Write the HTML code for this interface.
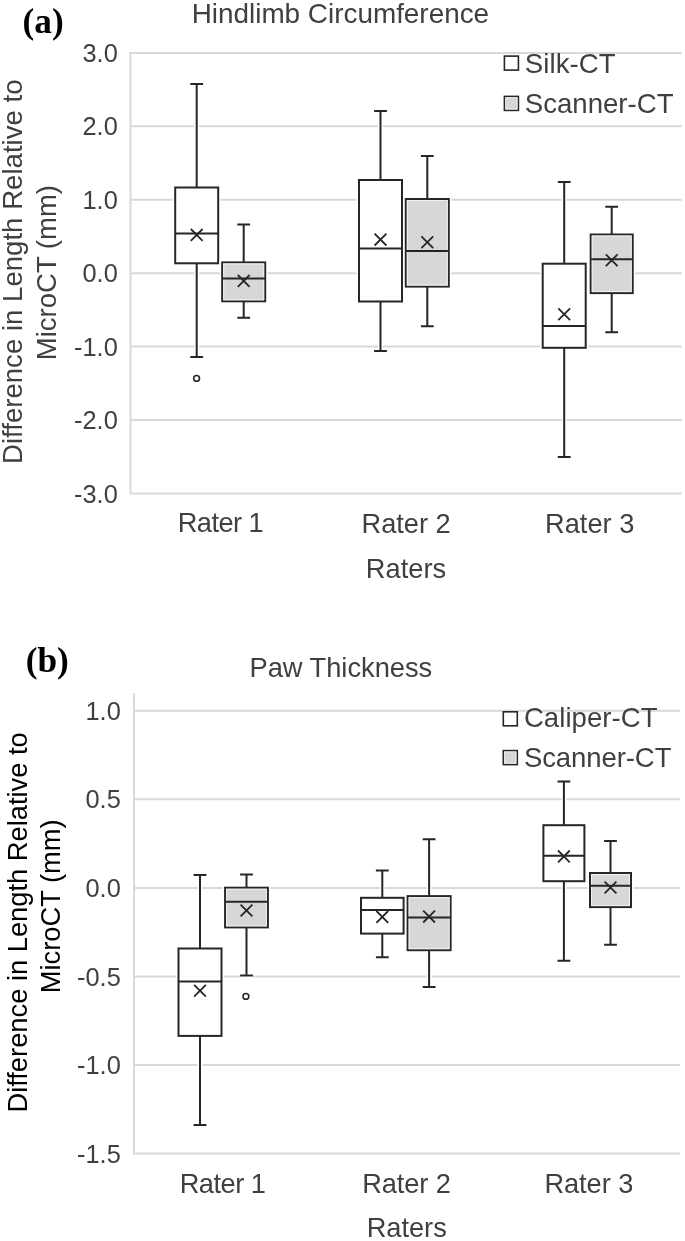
<!DOCTYPE html>
<html><head><meta charset="utf-8"><style>
html,body{margin:0;padding:0;background:#fff;}
svg{display:block;font-family:"Liberation Sans",sans-serif;filter:blur(0.35px);}
</style></head><body>
<svg width="685" height="1241" viewBox="0 0 685 1241">
<rect width="685" height="1241" fill="#fff"/>
<path d="M130.5 52.889999999999986H681.8" stroke="#d9d9d9" stroke-width="2"/>
<path d="M130.5 126.32H681.8" stroke="#d9d9d9" stroke-width="2"/>
<path d="M130.5 199.75H681.8" stroke="#d9d9d9" stroke-width="2"/>
<path d="M130.5 273.18H681.8" stroke="#d9d9d9" stroke-width="2"/>
<path d="M130.5 346.61H681.8" stroke="#d9d9d9" stroke-width="2"/>
<path d="M130.5 420.04H681.8" stroke="#d9d9d9" stroke-width="2"/>
<path d="M130.5 493.47H681.8" stroke="#d9d9d9" stroke-width="2"/>
<path d="M130.5 51.889999999999986V494.47" stroke="#d9d9d9" stroke-width="2"/>
<text x="117.8" y="61.98999999999999" text-anchor="end" font-size="25.4" fill="#404040">3.0</text>
<text x="117.8" y="135.42" text-anchor="end" font-size="25.4" fill="#404040">2.0</text>
<text x="117.8" y="208.85" text-anchor="end" font-size="25.4" fill="#404040">1.0</text>
<text x="117.8" y="282.28000000000003" text-anchor="end" font-size="25.4" fill="#404040">0.0</text>
<text x="117.8" y="355.71000000000004" text-anchor="end" font-size="25.4" fill="#404040">-1.0</text>
<text x="117.8" y="429.14000000000004" text-anchor="end" font-size="25.4" fill="#404040">-2.0</text>
<text x="117.8" y="502.57000000000005" text-anchor="end" font-size="25.4" fill="#404040">-3.0</text>
<path d="M196.7 84.1V187.5M196.7 263.3V357M190.29999999999998 84.1H203.1M190.29999999999998 357H203.1" stroke="#fff" stroke-width="4.8" fill="none"/>
<rect x="175.2" y="187.5" width="43.0" height="75.80000000000001" stroke="#fff" stroke-width="4.8" fill="none"/>
<rect x="175.2" y="187.5" width="43.0" height="75.80000000000001" fill="#fff" stroke="#262626" stroke-width="2"/>
<path d="M196.7 84.1V187.5M196.7 263.3V357M190.29999999999998 84.1H203.1M190.29999999999998 357H203.1M175.2 233.5H218.2" stroke="#262626" stroke-width="2" fill="none"/>
<path d="M190.79999999999998 229.0L202.6 240.8M190.79999999999998 240.8L202.6 229.0" stroke="#262626" stroke-width="1.8" fill="none"/>
<circle cx="196.6" cy="378.4" r="2.9" fill="#fff" stroke="#262626" stroke-width="1.6"/>
<path d="M243.7 224.6V262.4M243.7 301.3V317.8M237.29999999999998 224.6H250.1M237.29999999999998 317.8H250.1" stroke="#fff" stroke-width="4.8" fill="none"/>
<rect x="222.2" y="262.4" width="43.0" height="38.900000000000034" stroke="#fff" stroke-width="4.8" fill="none"/>
<rect x="222.2" y="262.4" width="43.0" height="38.900000000000034" fill="#d7d7d7" stroke="#262626" stroke-width="2"/>
<rect x="223.7" y="263.9" width="40.0" height="35.900000000000034" fill="none" stroke="#f2f2f2" stroke-width="1"/>
<path d="M243.7 224.6V262.4M243.7 301.3V317.8M237.29999999999998 224.6H250.1M237.29999999999998 317.8H250.1M222.2 278.6H265.2" stroke="#262626" stroke-width="2" fill="none"/>
<path d="M237.79999999999998 275.0L249.6 286.79999999999995M237.79999999999998 286.79999999999995L249.6 275.0" stroke="#262626" stroke-width="1.8" fill="none"/>
<path d="M380.5 111V180M380.5 301.5V350.9M374.1 111H386.9M374.1 350.9H386.9" stroke="#fff" stroke-width="4.8" fill="none"/>
<rect x="359.0" y="180" width="43.0" height="121.5" stroke="#fff" stroke-width="4.8" fill="none"/>
<rect x="359.0" y="180" width="43.0" height="121.5" fill="#fff" stroke="#262626" stroke-width="2"/>
<path d="M380.5 111V180M380.5 301.5V350.9M374.1 111H386.9M374.1 350.9H386.9M359.0 248.6H402.0" stroke="#262626" stroke-width="2" fill="none"/>
<path d="M374.6 233.7L386.4 245.5M374.6 245.5L386.4 233.7" stroke="#262626" stroke-width="1.8" fill="none"/>
<path d="M427.3 156V199M427.3 286.6V326.3M420.90000000000003 156H433.7M420.90000000000003 326.3H433.7" stroke="#fff" stroke-width="4.8" fill="none"/>
<rect x="405.8" y="199" width="43.0" height="87.60000000000002" stroke="#fff" stroke-width="4.8" fill="none"/>
<rect x="405.8" y="199" width="43.0" height="87.60000000000002" fill="#d7d7d7" stroke="#262626" stroke-width="2"/>
<rect x="407.3" y="200.5" width="40.0" height="84.60000000000002" fill="none" stroke="#f2f2f2" stroke-width="1"/>
<path d="M427.3 156V199M427.3 286.6V326.3M420.90000000000003 156H433.7M420.90000000000003 326.3H433.7M405.8 251H448.8" stroke="#262626" stroke-width="2" fill="none"/>
<path d="M421.40000000000003 236.29999999999998L433.2 248.1M421.40000000000003 248.1L433.2 236.29999999999998" stroke="#262626" stroke-width="1.8" fill="none"/>
<path d="M564.2 181.9V263.7M564.2 347.8V456.9M557.8000000000001 181.9H570.6M557.8000000000001 456.9H570.6" stroke="#fff" stroke-width="4.8" fill="none"/>
<rect x="542.7" y="263.7" width="43.0" height="84.10000000000002" stroke="#fff" stroke-width="4.8" fill="none"/>
<rect x="542.7" y="263.7" width="43.0" height="84.10000000000002" fill="#fff" stroke="#262626" stroke-width="2"/>
<path d="M564.2 181.9V263.7M564.2 347.8V456.9M557.8000000000001 181.9H570.6M557.8000000000001 456.9H570.6M542.7 325.9H585.7" stroke="#262626" stroke-width="2" fill="none"/>
<path d="M558.3000000000001 308.40000000000003L570.1 320.2M558.3000000000001 320.2L570.1 308.40000000000003" stroke="#262626" stroke-width="1.8" fill="none"/>
<path d="M611.7 206.8V234.5M611.7 293.1V332.2M605.3000000000001 206.8H618.1M605.3000000000001 332.2H618.1" stroke="#fff" stroke-width="4.8" fill="none"/>
<rect x="590.7" y="234.5" width="42.0" height="58.60000000000002" stroke="#fff" stroke-width="4.8" fill="none"/>
<rect x="590.7" y="234.5" width="42.0" height="58.60000000000002" fill="#d7d7d7" stroke="#262626" stroke-width="2"/>
<rect x="592.2" y="236.0" width="39.0" height="55.60000000000002" fill="none" stroke="#f2f2f2" stroke-width="1"/>
<path d="M611.7 206.8V234.5M611.7 293.1V332.2M605.3000000000001 206.8H618.1M605.3000000000001 332.2H618.1M590.7 259.3H632.7" stroke="#262626" stroke-width="2" fill="none"/>
<path d="M605.8000000000001 254.29999999999998L617.6 266.09999999999997M605.8000000000001 266.09999999999997L617.6 254.29999999999998" stroke="#262626" stroke-width="1.8" fill="none"/>
<path d="M134.0 710.77H680" stroke="#d9d9d9" stroke-width="2"/>
<path d="M134.0 799.3399999999999H680" stroke="#d9d9d9" stroke-width="2"/>
<path d="M134.0 887.91H680" stroke="#d9d9d9" stroke-width="2"/>
<path d="M134.0 976.48H680" stroke="#d9d9d9" stroke-width="2"/>
<path d="M134.0 1065.05H680" stroke="#d9d9d9" stroke-width="2"/>
<path d="M134.0 1153.62H680" stroke="#d9d9d9" stroke-width="2"/>
<path d="M134.0 693V1154.62" stroke="#d9d9d9" stroke-width="2"/>
<text x="120.8" y="719.87" text-anchor="end" font-size="25.4" fill="#404040">1.0</text>
<text x="120.8" y="808.4399999999999" text-anchor="end" font-size="25.4" fill="#404040">0.5</text>
<text x="120.8" y="897.01" text-anchor="end" font-size="25.4" fill="#404040">0.0</text>
<text x="120.8" y="985.58" text-anchor="end" font-size="25.4" fill="#404040">-0.5</text>
<text x="120.8" y="1074.1499999999999" text-anchor="end" font-size="25.4" fill="#404040">-1.0</text>
<text x="120.8" y="1162.7199999999998" text-anchor="end" font-size="25.4" fill="#404040">-1.5</text>
<path d="M200 874.9V948.5M200 1035.9V1125M193.6 874.9H206.4M193.6 1125H206.4" stroke="#fff" stroke-width="4.8" fill="none"/>
<rect x="178.5" y="948.5" width="43.0" height="87.40000000000009" stroke="#fff" stroke-width="4.8" fill="none"/>
<rect x="178.5" y="948.5" width="43.0" height="87.40000000000009" fill="#fff" stroke="#262626" stroke-width="2"/>
<path d="M200 874.9V948.5M200 1035.9V1125M193.6 874.9H206.4M193.6 1125H206.4M178.5 981.5H221.5" stroke="#262626" stroke-width="2" fill="none"/>
<path d="M194.1 984.8000000000001L205.9 996.6M194.1 996.6L205.9 984.8000000000001" stroke="#262626" stroke-width="1.8" fill="none"/>
<path d="M246.5 874.4V887.7M246.5 927.4V975.5M240.1 874.4H252.9M240.1 975.5H252.9" stroke="#fff" stroke-width="4.8" fill="none"/>
<rect x="225.1" y="887.7" width="42.79999999999998" height="39.69999999999993" stroke="#fff" stroke-width="4.8" fill="none"/>
<rect x="225.1" y="887.7" width="42.79999999999998" height="39.69999999999993" fill="#d7d7d7" stroke="#262626" stroke-width="2"/>
<rect x="226.6" y="889.2" width="39.79999999999998" height="36.69999999999993" fill="none" stroke="#f2f2f2" stroke-width="1"/>
<path d="M246.5 874.4V887.7M246.5 927.4V975.5M240.1 874.4H252.9M240.1 975.5H252.9M225.1 901.7H267.9" stroke="#262626" stroke-width="2" fill="none"/>
<path d="M240.6 904.6L252.4 916.4M240.6 916.4L252.4 904.6" stroke="#262626" stroke-width="1.8" fill="none"/>
<circle cx="245.9" cy="996.4" r="2.9" fill="#fff" stroke="#262626" stroke-width="1.6"/>
<path d="M382.3 870.4V897.8M382.3 933.6V957.2M375.90000000000003 870.4H388.7M375.90000000000003 957.2H388.7" stroke="#fff" stroke-width="4.8" fill="none"/>
<rect x="361.0" y="897.8" width="42.60000000000002" height="35.80000000000007" stroke="#fff" stroke-width="4.8" fill="none"/>
<rect x="361.0" y="897.8" width="42.60000000000002" height="35.80000000000007" fill="#fff" stroke="#262626" stroke-width="2"/>
<path d="M382.3 870.4V897.8M382.3 933.6V957.2M375.90000000000003 870.4H388.7M375.90000000000003 957.2H388.7M361.0 910.1H403.6" stroke="#262626" stroke-width="2" fill="none"/>
<path d="M376.40000000000003 911.0L388.2 922.8M376.40000000000003 922.8L388.2 911.0" stroke="#262626" stroke-width="1.8" fill="none"/>
<path d="M429.1 839.3V896.1M429.1 950.2V987M422.70000000000005 839.3H435.5M422.70000000000005 987H435.5" stroke="#fff" stroke-width="4.8" fill="none"/>
<rect x="407.6" y="896.1" width="43.0" height="54.10000000000002" stroke="#fff" stroke-width="4.8" fill="none"/>
<rect x="407.6" y="896.1" width="43.0" height="54.10000000000002" fill="#d7d7d7" stroke="#262626" stroke-width="2"/>
<rect x="409.1" y="897.6" width="40.0" height="51.10000000000002" fill="none" stroke="#f2f2f2" stroke-width="1"/>
<path d="M429.1 839.3V896.1M429.1 950.2V987M422.70000000000005 839.3H435.5M422.70000000000005 987H435.5M407.6 917.6H450.6" stroke="#262626" stroke-width="2" fill="none"/>
<path d="M423.20000000000005 910.7L435.0 922.5M423.20000000000005 922.5L435.0 910.7" stroke="#262626" stroke-width="1.8" fill="none"/>
<path d="M563.9 781.4V825.2M563.9 881.2V960.8M557.5 781.4H570.3M557.5 960.8H570.3" stroke="#fff" stroke-width="4.8" fill="none"/>
<rect x="543.4" y="825.2" width="41.0" height="56.0" stroke="#fff" stroke-width="4.8" fill="none"/>
<rect x="543.4" y="825.2" width="41.0" height="56.0" fill="#fff" stroke="#262626" stroke-width="2"/>
<path d="M563.9 781.4V825.2M563.9 881.2V960.8M557.5 781.4H570.3M557.5 960.8H570.3M543.4 855.8H584.4" stroke="#262626" stroke-width="2" fill="none"/>
<path d="M558.0 850.5L569.8 862.3M558.0 862.3L569.8 850.5" stroke="#262626" stroke-width="1.8" fill="none"/>
<path d="M610.5 841V873M610.5 907.1V944.8M604.1 841H616.9M604.1 944.8H616.9" stroke="#fff" stroke-width="4.8" fill="none"/>
<rect x="590.0" y="873" width="41.0" height="34.10000000000002" stroke="#fff" stroke-width="4.8" fill="none"/>
<rect x="590.0" y="873" width="41.0" height="34.10000000000002" fill="#d7d7d7" stroke="#262626" stroke-width="2"/>
<rect x="591.5" y="874.5" width="38.0" height="31.100000000000023" fill="none" stroke="#f2f2f2" stroke-width="1"/>
<path d="M610.5 841V873M610.5 907.1V944.8M604.1 841H616.9M604.1 944.8H616.9M590.0 885.7H631.0" stroke="#262626" stroke-width="2" fill="none"/>
<path d="M604.6 881.6L616.4 893.4M604.6 893.4L616.4 881.6" stroke="#262626" stroke-width="1.8" fill="none"/>
<text x="191.67" y="22.6" font-size="27.9" textLength="297.45" lengthAdjust="spacing" fill="#404040" >Hindlimb Circumference</text>
<text x="249.52" y="677.1" font-size="27.3" textLength="182.68" lengthAdjust="spacing" fill="#404040" >Paw Thickness</text>
<text x="22.6" y="32.8" font-family="Liberation Serif" font-weight="bold" font-size="35.2" fill="#000">(a)</text>
<text x="25.7" y="672.3" font-family="Liberation Serif" font-weight="bold" font-size="35.3" fill="#000">(b)</text>
<rect x="504.4" y="56.1" width="14" height="14" fill="#fff" stroke="#262626" stroke-width="1.6"/>
<rect x="504.4" y="96.4" width="14" height="14" fill="#d7d7d7" stroke="#262626" stroke-width="1.6"/><rect x="505.7" y="97.7" width="11.4" height="11.4" fill="none" stroke="#f2f2f2" stroke-width="0.8"/>
<text x="524.72" y="73.1" font-size="27.6" textLength="90.96" lengthAdjust="spacing" fill="#404040" >Silk-CT</text>
<text x="524.72" y="113.4" font-size="27.6" textLength="148.85" lengthAdjust="spacing" fill="#404040" >Scanner-CT</text>
<rect x="503.3" y="711.8" width="14" height="14" fill="#fff" stroke="#262626" stroke-width="1.6"/>
<rect x="503.3" y="750.6" width="14" height="14" fill="#d7d7d7" stroke="#262626" stroke-width="1.6"/><rect x="504.6" y="751.9" width="11.4" height="11.4" fill="none" stroke="#f2f2f2" stroke-width="0.8"/>
<text x="523.92" y="727.4" font-size="27.5" textLength="133.64" lengthAdjust="spacing" fill="#404040" >Caliper-CT</text>
<text x="523.92" y="767.4" font-size="27.5" textLength="147.54" lengthAdjust="spacing" fill="#404040" >Scanner-CT</text>
<text x="177.72" y="532.3" font-size="27.2" textLength="85.92" lengthAdjust="spacing" fill="#404040" >Rater 1</text>
<text x="361.52" y="532.5" font-size="27.2" textLength="89.12" lengthAdjust="spacing" fill="#404040" >Rater 2</text>
<text x="545.02" y="532.5" font-size="27.2" textLength="89.32" lengthAdjust="spacing" fill="#404040" >Rater 3</text>
<text x="365.82" y="577.7" font-size="27.2" textLength="80.24" lengthAdjust="spacing" fill="#404040" >Raters</text>
<text x="179.72" y="1192.5" font-size="27.2" textLength="86.22" lengthAdjust="spacing" fill="#404040" >Rater 1</text>
<text x="362.22" y="1192.5" font-size="27.2" textLength="88.62" lengthAdjust="spacing" fill="#404040" >Rater 2</text>
<text x="544.42" y="1192.5" font-size="27.2" textLength="88.92" lengthAdjust="spacing" fill="#404040" >Rater 3</text>
<text x="366.72" y="1237.4" font-size="27.2" textLength="80.04" lengthAdjust="spacing" fill="#404040" >Raters</text>
<text transform="translate(22.0 271.75) rotate(-90)" x="0" y="0" text-anchor="middle" font-size="27.6" fill="#404040">Difference in Length Relative to</text>
<text transform="translate(55.5 272.6) rotate(-90)" x="0" y="0" text-anchor="middle" font-size="27.5" fill="#404040">MicroCT (mm)</text>
<text transform="translate(26.7 922.4) rotate(-90)" x="0" y="0" text-anchor="middle" font-size="27.3" fill="#000">Difference in Length Relative to</text>
<text transform="translate(59.7 906.3) rotate(-90)" x="0" y="0" text-anchor="middle" font-size="27.3" fill="#000">MicroCT (mm)</text>
</svg>
</body></html>
